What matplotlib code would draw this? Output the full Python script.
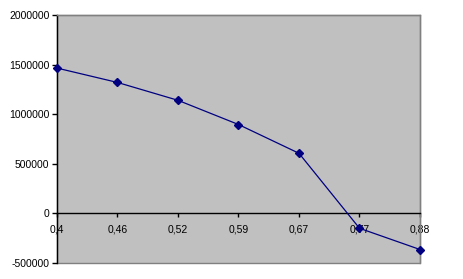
import matplotlib.pyplot as plt
from matplotlib.patches import Rectangle
from matplotlib.ticker import FuncFormatter

categorias = ["0,4", "0,46", "0,52", "0,59", "0,67", "0,77", "0,88"]
valores = [1465000, 1320000, 1140000, 896000, 606000, -150000, -364000]
y_ticks = [-500000, 0, 500000, 1000000, 1500000, 2000000]

plt.rcParams["font.family"] = ["Liberation Sans", "DejaVu Sans"]

fig = plt.figure(figsize=(4.64, 2.79), dpi=100, facecolor="white")
ax = fig.add_axes([57 / 464, 1 - 263 / 279, 363 / 464, 248 / 279])
ax.set_facecolor("#C0C0C0")

x = list(range(len(categorias)))
ax.plot(x, valores, color="#000080", linewidth=0.9, marker="D",
        markersize=4.2, markerfacecolor="#000080", markeredgecolor="#000080",
        clip_on=False, zorder=5)

ax.set_xlim(0, len(categorias) - 1)
ax.set_ylim(-500000, 2000000)
ax.set_yticks(y_ticks)
ax.yaxis.set_major_formatter(FuncFormatter(lambda v, _: f"{v:.0f}"))
ax.set_xticks(x)
ax.set_xticklabels(categorias)

# eixo x cruza em zero
ax.spines["bottom"].set_position(("data", 0))
ax.spines["bottom"].set_color("black")
ax.spines["left"].set_color("black")
ax.spines["top"].set_color("#808080")
ax.spines["right"].set_color("#808080")
for s in ax.spines.values():
    s.set_linewidth(1.0)
ax.add_patch(Rectangle((0, 0), 1, 1, transform=ax.transAxes, fill=False,
                       edgecolor="#808080", linewidth=1.0, zorder=0.5,
                       clip_on=False))
ax.spines["bottom"].set_zorder(3)

ax.tick_params(axis="x", direction="out", length=3, width=1, pad=5,
               labelsize=7.5, colors="black")
ax.tick_params(axis="y", direction="out", length=3.5, width=1, pad=2,
               labelsize=7.5, colors="black")

fig.savefig("out.png", dpi=100, facecolor="white")
